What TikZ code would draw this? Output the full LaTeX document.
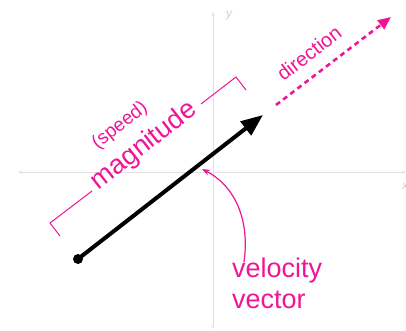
\documentclass[tikz,border=0pt]{standalone}
\usepackage{fontspec}
\setmainfont{Liberation Sans}
\usetikzlibrary{arrows.meta}
\definecolor{mag}{RGB}{240,20,150}
\definecolor{axisgray}{RGB}{225,225,225}
\begin{document}
\begin{tikzpicture}[x=1pt,y=-1pt,
  axisline/.style={draw=axisgray,line width=0.8pt,{Stealth[length=4pt,width=3pt]}-{Stealth[length=4pt,width=3pt]}},
  axislabel/.style={text=axisgray!80!gray,font=\fontsize{12}{14}\selectfont\itshape,inner sep=0pt},
  magtext/.style={text=mag,inner sep=0pt},
  bracketline/.style={draw=mag,line width=1pt},
  vecline/.style={draw=black,line width=4pt,-{Triangle[length=22pt,width=17pt]}},
  dirline/.style={draw=mag,line width=2.6pt,dash pattern=on 5pt off 4pt,-{Triangle[length=13pt,width=11pt]}},
  pointer/.style={draw=mag,line width=1.2pt,-{Stealth[length=8pt,width=6pt]}}]
\useasboundingbox (0,0) rectangle (406,331);
% axes
\coordinate (xl) at (18,172);
\coordinate (xr) at (406,172);
\coordinate (yb) at (213,329);
\coordinate (yt) at (213,12);
\draw[axisline] (xl) -- (xr);
\draw[axisline] (yb) -- (yt);
\node[axislabel] (ylab) at (229,16) {y};
\node[axislabel] (xlab) at (405,186) {x};
% velocity vector
\coordinate (vstart) at (78,259);
\coordinate (vtip) at (263,115);
\draw[vecline] (vstart) -- (vtip);
\fill[black] (vstart) circle (5pt);
% direction
\coordinate (dstart) at (276,105);
\coordinate (dtip) at (391,17);
\draw[dirline] (dstart) -- (dtip);
\node[magtext,rotate=38,font=\fontsize{20}{24}\selectfont] (dir) at (309,53) {direction};
% bracket
\coordinate (b1) at (60,236);
\coordinate (b2) at (50,223);
\coordinate (b3) at (92,191);
\coordinate (b4) at (201,104);
\coordinate (b5) at (236,77);
\coordinate (b6) at (246,90);
\draw[bracketline] (b1) -- (b2) -- (b3);
\draw[bracketline] (b4) -- (b5) -- (b6);
\node[magtext,rotate=38,font=\fontsize{27}{30}\selectfont] (magn) at (144,146) {magnitude};
\node[magtext,rotate=38,font=\fontsize{19}{22}\selectfont] (speed) at (120,126) {(speed)};
% velocity vector label
\node[magtext,align=left,anchor=north west,font=\fontsize{27}{31}\selectfont] (vlab) at (232,258) {velocity\\vector};
\coordinate (pstart) at (244,262);
\coordinate (ptip) at (202,169);
\draw[pointer] (pstart) .. controls (250,220) and (235,186) .. (ptip);
\end{tikzpicture}
\end{document}
